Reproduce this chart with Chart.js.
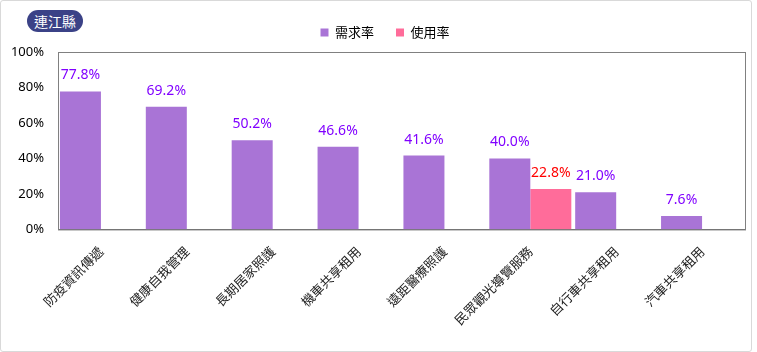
<!DOCTYPE html>
<html lang="zh-Hant">
<head>
  <meta charset="UTF-8">
  <title>連江縣 需求率與使用率</title>
  <style>
    body { margin: 0; background: #fff; }
    .wrap {
      position: relative;
      width: 750px;
      height: 350px;
      border: 1px solid #d9d9d9;
      border-radius: 3px;
      font-family: "Segoe UI", "Noto Sans", "Noto Sans CJK TC", sans-serif;
    }
    .badge {
      position: absolute;
      left: 26px;
      top: 9px;
      width: 56px;
      height: 22px;
      line-height: 22px;
      border-radius: 11px;
      background: #3b4287;
      color: #fff;
      font-size: 14px;
      text-align: center;
      font-family: "Noto Sans CJK TC", sans-serif;
    }
    canvas { position: absolute; left: 0; top: 0; }
  </style>
</head>
<body>
  <div class="wrap">
    <div class="badge">連江縣</div>
    <canvas id="chart" width="750" height="350"></canvas>
  </div>

  <script src="https://cdn.jsdelivr.net/npm/chart.js"></script>
  <script>
    // 資料
    var categories = ['防疫資訊傳遞', '健康自我管理', '長期居家照護', '機車共享租用', '遠距醫療照護', '民眾觀光導覽服務', '自行車共享租用', '汽車共享租用'];
    var demandRate = [77.8, 69.2, 50.2, 46.6, 41.6, 40.0, 21.0, 7.6];
    var usageRate = [null, null, null, null, null, 22.8, null, null];
    var yTicks = [0, 20, 40, 60, 80, 100];

    var labelColors = ['#8000ff', '#ff0000'];

    // 數值標籤
    var valueLabels = {
      id: 'valueLabels',
      afterDatasetsDraw: function (chart) {
        var ctx = chart.ctx;
        ctx.save();
        ctx.font = '14px "Segoe UI", "Noto Sans", sans-serif';
        ctx.textAlign = 'center';
        ctx.textBaseline = 'alphabetic';
        chart.data.datasets.forEach(function (ds, i) {
          var meta = chart.getDatasetMeta(i);
          meta.data.forEach(function (bar, j) {
            var v = ds.data[j];
            if (v === null) return;
            ctx.fillStyle = labelColors[i];
            ctx.fillText(v.toFixed(1) + '%', bar.x, bar.y - 12);
          });
        });
        ctx.restore();
      }
    };

    // 繪圖區外框 + 圖例位置微調
    var plotFrame = {
      id: 'plotFrame',
      afterLayout: function (chart) {
        chart.legend.left += 12;
        chart.legend.right += 12;
        chart.legend.top -= 3;
        chart.legend.bottom -= 3;
      },
      afterDraw: function (chart) {
        var a = chart.chartArea;
        var ctx = chart.ctx;
        ctx.save();
        ctx.strokeStyle = '#808080';
        ctx.lineWidth = 1;
        ctx.strokeRect(a.left + 0.5, a.top + 0.5, a.right - a.left, a.bottom - a.top);
        ctx.restore();
      }
    };

    var ctx = document.getElementById('chart').getContext('2d');
    var chart = new Chart(ctx, {
      type: 'bar',
      data: {
        labels: categories,
        datasets: [{
          label: '需求率',
          data: demandRate,
          backgroundColor: '#a974d6',
          categoryPercentage: 0.955,
          barPercentage: 1.0
        }, {
          label: '使用率',
          data: usageRate,
          backgroundColor: '#ff6c9a',
          categoryPercentage: 0.955,
          barPercentage: 1.0
        }]
      },
      options: {
        responsive: false,
        animation: false,
        layout: { padding: { left: 0, right: 6, top: 6, bottom: 17 } },
        plugins: {
          legend: {
            position: 'top',
            labels: {
              boxWidth: 8,
              boxHeight: 8,
              padding: 22,
              color: '#000',
              font: { size: 13, family: '"Noto Sans CJK TC", sans-serif' }
            }
          },
          tooltip: { enabled: false }
        },
        scales: {
          x: {
            grid: { display: false },
            border: { color: '#666' },
            ticks: {
              maxRotation: 45,
              minRotation: 45,
              padding: 6,
              color: '#222',
              font: { size: 13, family: '"Noto Sans CJK TC", sans-serif' }
            }
          },
          y: {
            min: yTicks[0],
            max: yTicks[yTicks.length - 1],
            afterFit: function (scale) { scale.width = 57; },
            grid: { display: false, drawTicks: false },
            border: { color: '#666' },
            ticks: {
              stepSize: yTicks[1] - yTicks[0],
              padding: 14,
              color: '#000',
              font: { size: 13, family: '"Segoe UI", "Noto Sans", sans-serif' },
              callback: function (v) { return v + '%'; }
            }
          }
        }
      },
      plugins: [valueLabels, plotFrame]
    });
  </script>
</body>
</html>
